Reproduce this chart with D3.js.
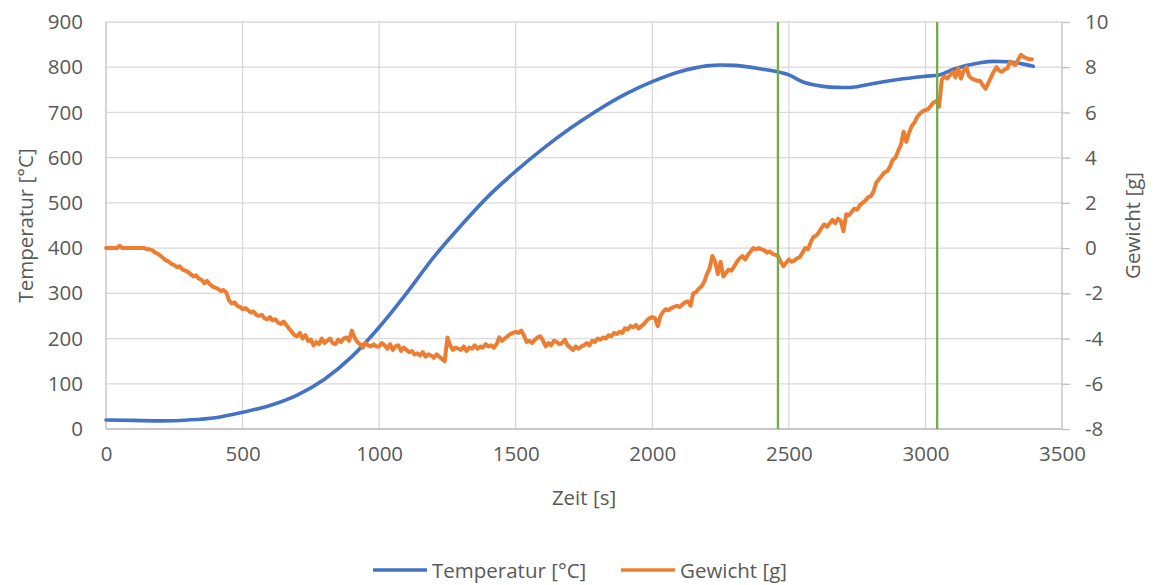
<!DOCTYPE html>
<html>
<head>
<meta charset="utf-8">
<script src="https://cdn.jsdelivr.net/npm/d3@7/dist/d3.min.js"></script>
<style>
  html, body { margin: 0; padding: 0; background: #fff; }
  svg { display: block; }
  text { font-family: "Open Sans", "Noto Sans", sans-serif; fill: #595959; }
</style>
</head>
<body>
<svg id="chart" width="1156" height="585"></svg>
<script>
// Time axis ticks [s]
const xTicks = [0, 500, 1000, 1500, 2000, 2500, 3000, 3500];
const yLeftTicks = [0, 100, 200, 300, 400, 500, 600, 700, 800, 900];
const yRightTicks = [-8, -6, -4, -2, 0, 2, 4, 6, 8, 10];

// Temperature [°C] over time [s]
const tempTime = [0, 100, 200, 300, 400, 500, 600, 700, 800, 900, 1000, 1100, 1200, 1300, 1400, 1500,
  1600, 1700, 1800, 1900, 2000, 2100, 2200, 2250, 2300, 2400, 2450, 2500, 2550, 2600, 2650, 2700, 2750, 2800,
  2900, 3000, 3050, 3100, 3200, 3250, 3300, 3350, 3395];
const tempValue = [20, 19, 18, 20, 25, 37, 52, 75, 110, 160, 225, 300, 380, 450, 515, 570,
  620, 665, 705, 740, 768, 790, 803, 805, 804, 796, 791, 783, 768, 760, 756, 755, 757, 763,
  773, 780, 783, 795, 810, 813, 812, 808, 802];

// Weight [g], logged every 10 s from t = 0
const weightInterval = 10;
const weightValue = [
  0, 0, 0, 0, 0, 0.1, 0, 0, 0, 0,
  0, 0, 0, 0, 0, -0.05, -0.05, -0.1, -0.2, -0.25,
  -0.35, -0.45, -0.55, -0.6, -0.7, -0.75, -0.85, -0.8, -0.95, -1.0,
  -1.05, -1.15, -1.25, -1.2, -1.35, -1.4, -1.55, -1.45, -1.6, -1.7,
  -1.75, -1.8, -1.9, -1.85, -1.95, -2.3, -2.45, -2.4, -2.55, -2.6,
  -2.7, -2.65, -2.75, -2.85, -2.8, -2.95, -3.0, -2.95, -3.1, -3.15,
  -3.05, -3.2, -3.15, -3.3, -3.35, -3.25, -3.4, -3.55, -3.7, -3.85,
  -3.9, -3.75, -4.0, -3.85, -4.1, -4.05, -4.3, -4.15, -4.25, -4.0,
  -4.2, -4.1, -4.0, -4.2, -4.25, -4.05, -4.15, -4.0, -3.95, -4.1,
  -3.65, -3.95, -4.15, -4.25, -4.4, -4.2, -4.3, -4.35, -4.25, -4.35,
  -4.35, -4.2, -4.3, -4.45, -4.25, -4.5, -4.35, -4.3, -4.55, -4.4,
  -4.5, -4.6, -4.55, -4.7, -4.65, -4.75, -4.6, -4.8, -4.7, -4.75,
  -4.85, -4.7, -4.8, -4.9, -5.0, -3.95, -4.3, -4.5, -4.4, -4.45,
  -4.5, -4.35, -4.55, -4.4, -4.45, -4.3, -4.45, -4.35, -4.4, -4.25,
  -4.35, -4.3, -4.4, -4.25, -3.95, -4.1, -4.0, -3.9, -3.8, -3.75,
  -3.7, -3.75, -3.65, -3.85, -4.15, -4.1, -4.2, -4.05, -3.95, -3.9,
  -4.1, -4.35, -4.2, -4.3, -4.1, -4.15, -4.25, -4.2, -4.05, -4.3,
  -4.4, -4.5, -4.35, -4.45, -4.35, -4.3, -4.2, -4.3, -4.1, -4.15,
  -4.0, -4.05, -3.95, -4.0, -3.85, -3.9, -3.75, -3.8, -3.7, -3.75,
  -3.55, -3.6, -3.45, -3.5, -3.4, -3.55, -3.45, -3.35, -3.2, -3.1,
  -3.05, -3.1, -3.45, -3.0, -2.8, -2.7, -2.75, -2.65, -2.6, -2.55,
  -2.6, -2.5, -2.4, -2.35, -2.55, -2.0, -1.95, -1.8, -1.7, -1.5,
  -1.15, -0.9, -0.35, -0.6, -1.15, -0.6, -1.25, -1.1, -0.95, -1.0,
  -0.8, -0.6, -0.45, -0.35, -0.5, -0.3, -0.15, 0.0, -0.05, 0.0,
  -0.05, -0.1, -0.2, -0.15, -0.25, -0.3, -0.35, -0.6, -0.8, -0.65,
  -0.5, -0.6, -0.55, -0.45, -0.4, -0.2, 0.0, -0.05, 0.25, 0.5,
  0.55, 0.7, 0.9, 1.05, 0.95, 1.1, 1.25, 1.1, 1.3, 1.2,
  0.75, 1.5, 1.45, 1.6, 1.75, 1.7, 1.9, 2.0, 2.1, 2.25,
  2.3, 2.5, 2.9, 3.05, 3.2, 3.35, 3.4, 3.6, 3.9, 4.0,
  4.3, 4.55, 5.15, 4.7, 5.1, 5.4, 5.55, 5.8, 5.95, 6.05,
  6.1, 6.15, 6.3, 6.45, 6.5, 6.25, 7.45, 7.6, 7.5, 7.65,
  7.8, 7.55, 7.95, 7.5, 7.85, 8.0, 7.6, 7.5, 7.45, 7.4,
  7.4, 7.2, 7.05, 7.3, 7.55, 7.8, 8.0, 7.85, 7.8, 7.9,
  7.95, 8.25, 8.15, 8.1, 8.35, 8.55, 8.45, 8.4, 8.35, 8.35
];

// Phase markers [s]
const markerTimes = [2460, 3043];

const svg = d3.select("#chart");
const plot = { left: 106, right: 1062, top: 22, bottom: 429 };
const fontFamily = '"Open Sans", "Noto Sans", sans-serif';
const fontSize = 20.5;
const textColor = "#595959";
const axisColor = "#bfbfbf";

const x = d3.scaleLinear().domain([0, 3500]).range([plot.left, plot.right]);
const yL = d3.scaleLinear().domain([0, 900]).range([plot.bottom, plot.top]);
const yR = d3.scaleLinear().domain([-8, 10]).range([plot.bottom, plot.top]);

// Gridlines
const grid = svg.append("g").attr("stroke", "#d9d9d9").attr("stroke-width", 1.3);
yLeftTicks.forEach(v => grid.append("line")
  .attr("x1", plot.left).attr("x2", plot.right)
  .attr("y1", yL(v)).attr("y2", yL(v)));
xTicks.filter(v => v > 0 && v < 3500).forEach(v => grid.append("line")
  .attr("x1", x(v)).attr("x2", x(v))
  .attr("y1", plot.top).attr("y2", plot.bottom));

// Axis lines
[[plot.left, plot.top, plot.left, plot.bottom],
 [plot.right, plot.top, plot.right, plot.bottom],
 [plot.left, plot.bottom, plot.right, plot.bottom]].forEach(([x1, y1, x2, y2]) =>
  svg.append("line").attr("x1", x1).attr("y1", y1).attr("x2", x2).attr("y2", y2)
    .attr("stroke", axisColor).attr("stroke-width", 1.3));

// Tick labels
const plain = d => String(d);
const axB = svg.append("g").attr("transform", `translate(0,${plot.bottom})`)
  .call(d3.axisBottom(x).tickValues(xTicks).tickSize(0).tickPadding(17).tickFormat(plain));
const axL = svg.append("g").attr("transform", `translate(${plot.left},0)`)
  .call(d3.axisLeft(yL).tickValues(yLeftTicks).tickSize(0).tickPadding(23).tickFormat(plain));
const axR = svg.append("g").attr("transform", `translate(${plot.right},0)`)
  .call(d3.axisRight(yR).tickValues(yRightTicks).tickSize(8).tickPadding(15).tickFormat(plain));
[axB, axL, axR].forEach(a => {
  a.select(".domain").remove();
  a.selectAll("text").attr("font-size", fontSize).attr("fill", textColor)
    .style("font-family", fontFamily);
});
axR.selectAll("line").attr("stroke", axisColor).attr("stroke-width", 1.3);

// Temperature curve
const tempLine = d3.line().x((d, i) => x(tempTime[i])).y(d => yL(d)).curve(d3.curveMonotoneX);
svg.append("path").datum(tempValue).attr("d", tempLine)
  .attr("fill", "none").attr("stroke", "#4472c4").attr("stroke-width", 3.6)
  .attr("stroke-linecap", "round");

// Weight curve
const weightLine = d3.line().x((d, i) => x(i * weightInterval)).y(d => yR(d));
svg.append("path").datum(weightValue).attr("d", weightLine)
  .attr("fill", "none").attr("stroke", "#ed7d31").attr("stroke-width", 4)
  .attr("stroke-linejoin", "round").attr("stroke-linecap", "round");

// Phase markers
markerTimes.forEach(t => svg.append("line")
  .attr("x1", x(t)).attr("x2", x(t)).attr("y1", plot.top).attr("y2", plot.bottom)
  .attr("stroke", "#70ad47").attr("stroke-width", 2.3));

// Axis titles
svg.append("text").attr("transform", `translate(33,${(plot.top + plot.bottom) / 2}) rotate(-90)`)
  .attr("text-anchor", "middle").attr("font-size", fontSize).text("Temperatur [°C]");
svg.append("text").attr("transform", `translate(1140,${(plot.top + plot.bottom) / 2}) rotate(-90)`)
  .attr("text-anchor", "middle").attr("font-size", fontSize).text("Gewicht [g]");
svg.append("text").attr("x", (plot.left + plot.right) / 2).attr("y", 505)
  .attr("text-anchor", "middle").attr("font-size", fontSize).text("Zeit [s]");

// Legend
const legend = [
  { label: "Temperatur [°C]", color: "#4472c4", x: 373 },
  { label: "Gewicht [g]", color: "#ed7d31", x: 621 }
];
legend.forEach(d => {
  svg.append("line").attr("x1", d.x).attr("x2", d.x + 54).attr("y1", 570).attr("y2", 570)
    .attr("stroke", d.color).attr("stroke-width", 3.6);
  svg.append("text").attr("x", d.x + 59).attr("y", 577.5).attr("font-size", fontSize).text(d.label);
});
</script>
</body>
</html>
